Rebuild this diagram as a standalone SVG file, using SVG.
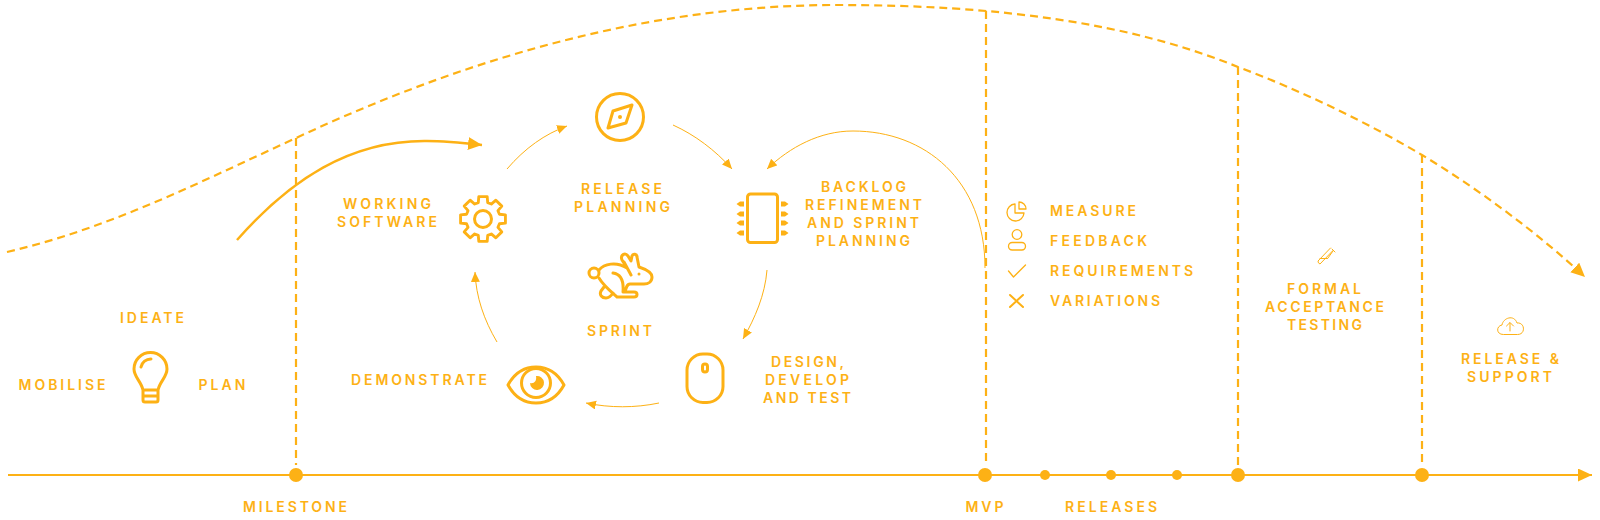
<svg xmlns="http://www.w3.org/2000/svg" width="1600" height="520" viewBox="0 0 1600 520">
<style>
text{font-family:Inter,"Liberation Sans",sans-serif;font-size:14px;font-weight:600;fill:#fdb115}
.i{fill:none;stroke:#fdb115;stroke-width:3;stroke-linecap:round;stroke-linejoin:round}
.t{stroke-width:2}
.f{fill:#fdb115;stroke:none}
.dash{fill:none;stroke:#fdb115;stroke-width:2.200;stroke-dasharray:8 5}
.thin{fill:none;stroke:#fdb115;stroke-width:1;marker-end:url(#am)}
</style>
<defs>
<marker id="am" markerUnits="userSpaceOnUse" markerWidth="12" markerHeight="10" refX="10" refY="4.500" orient="auto"><path d="M0 0L10 4.500L0 9Z" fill="#fdb115"/></marker>
<marker id="al" markerUnits="userSpaceOnUse" markerWidth="16" markerHeight="14" refX="14" refY="6.500" orient="auto"><path d="M0 0L14 6.500L0 13Z" fill="#fdb115"/></marker>
</defs>
<rect width="1600" height="520" fill="#fff"/>
<g id="connectors">
<path d="M8 475H1592" fill="none" stroke="#fdb115" stroke-width="2" marker-end="url(#al)"/>
<path class="dash" d="M7 252C110 228 200 182 296 138C480 52 660 5 837 5C1000 5 1130 23 1238 67C1300 90 1370 124 1422 155C1480 190 1540 235 1585 277" marker-end="url(#al)"/>
<path class="dash" d="M296 138V465M986 11V465M1238 67V465M1422 155V465"/>
<path d="M237 240C290 180 350 140 427 141C442 141 455 142 482 145" fill="none" stroke="#fdb115" stroke-width="2.500" marker-end="url(#al)"/>
<path class="thin" d="M507 169C525 148 545 134 567 126"/>
<path class="thin" d="M673 125C695 135 715 150 732 169"/>
<path class="thin" d="M985 268C985 180 925 131 853 131C820 131 790 147 767 169"/>
<path class="thin" d="M767 270C765 295 755 318 743 339"/>
<path class="thin" d="M659 403C635 408 610 408 586 403"/>
<path class="thin" d="M497 342C484 320 476 297 475 272"/>
</g>
<g id="timeline-dots" fill="#fdb115">
<circle cx="296" cy="475" r="7"/><circle cx="985" cy="475" r="7"/><circle cx="1045" cy="475" r="5"/><circle cx="1111" cy="475" r="5"/><circle cx="1177" cy="475" r="5"/><circle cx="1238" cy="475" r="7"/><circle cx="1422" cy="475" r="7"/>
</g>
<g id="ideate">
<path class="i" d="M143 400V390H158V400Q158 402 156 402H145Q143 402 143 400ZM143 390C141 381 134 377 134 369A16.500 16.500 0 0 1 167 369C167 377 160 381 158 390M144 396H157M141 367A10 10 0 0 1 151 359"/>
<text x="120" y="323" textLength="64">IDEATE</text>
<text x="18.500" y="390" textLength="87">MOBILISE</text>
<text x="198.500" y="390" textLength="47">PLAN</text>
</g>
<g id="milestone"><text x="243" y="512" textLength="104">MILESTONE</text></g>
<g id="working-software">
<path class="i" transform="translate(483 219) scale(.95)" d="M17.300 -4.960L23.600 -4.410V4.410L17.300 4.960L15.740 8.730L19.800 13.560L13.560 19.800L8.730 15.740L4.960 17.300L4.410 23.600H-4.410L-4.960 17.300L-8.730 15.740L-13.560 19.800L-19.800 13.560L-15.740 8.730L-17.300 4.960L-23.600 4.410V-4.410L-17.300 -4.960L-15.740 -8.730L-19.800 -13.560L-13.560 -19.800L-8.730 -15.740L-4.960 -17.300L-4.410 -23.600H4.410L4.960 -17.300L8.730 -15.740L13.560 -19.800L19.800 -13.560L15.740 -8.730Z"/>
<circle class="i" cx="483" cy="219" r="8.500"/>
<text x="343" y="209" textLength="88">WORKING</text>
<text x="337" y="227" textLength="100">SOFTWARE</text>
</g>
<g id="release-planning">
<circle class="i" cx="620" cy="117" r="23.500"/>
<path class="i" d="M608 128L613 111L632 105L626 123Z"/>
<circle class="f" cx="620" cy="117" r="2"/>
<text x="581" y="194" textLength="81">RELEASE</text>
<text x="574" y="212" textLength="96">PLANNING</text>
</g>
<g id="backlog">
<rect class="i" x="747.500" y="194" width="30" height="48.500" rx="3"/>
<path class="f" d="M736.500 204L740 201.500H744V206.500H740ZM736.500 214L740 211.500H744V216.500H740ZM736.500 223L740 220.500H744V225.500H740ZM736.500 233L740 230.500H744V235.500H740ZM788.500 204L785 201.500H781V206.500H785ZM788.500 214L785 211.500H781V216.500H785ZM788.500 223L785 220.500H781V225.500H785ZM788.500 233L785 230.500H781V235.500H785Z"/>
<text x="821" y="192" textLength="85">BACKLOG</text>
<text x="805" y="210" textLength="117">REFINEMENT</text>
<text x="807" y="228" textLength="112">AND SPRINT</text>
<text x="816" y="246" textLength="94">PLANNING</text>
</g>
<g id="sprint">
<circle class="i" cx="594" cy="273" r="5"/>
<path class="i" d="M599 270C604 264 616 261 627 268L622 260C620 255 625 252 628 256L631 261L632 256C633 253 637 254 637 257L639 267C645 269 652 272 652 277C652 282 648 284 644 284H630C627 284 626 288 625 292H634C638 292 638 297 634 297H617C609 290 603 285 599 278M604 287L601 291C599 295 602 298 606 298C609 298 611 296 613 293M613 273C620 274 624 280 623 292M624 262L631 275"/>
<circle class="f" cx="639" cy="274" r="1.500"/>
<text x="587" y="336" textLength="65">SPRINT</text>
</g>
<g id="design">
<rect class="i" x="687" y="354" width="36" height="48.500" rx="16"/>
<rect class="i" x="702.500" y="364" width="5" height="8" rx="2.500"/>
<text x="771" y="367" textLength="73">DESIGN,</text>
<text x="765" y="385" textLength="84">DEVELOP</text>
<text x="763" y="403" textLength="88">AND TEST</text>
</g>
<g id="demonstrate">
<path class="i" d="M508 385C514 374 524 367 536 367C548 367 558 374 564 385C558 396 548 403 536 403C524 403 514 396 508 385Z"/>
<circle class="i" cx="536" cy="383" r="14.500"/>
<path class="f" d="M536 376A7 7 0 1 1 530 383C534 384 537 381 536 376Z"/>
<text x="351" y="385" textLength="136">DEMONSTRATE</text>
</g>
<g id="measure">
<path class="i" style="stroke-width:1.300" d="M1015 204A8.500 8.500 0 1 0 1024 213H1015ZM1019 202A7 7 0 0 1 1026 209H1019Z"/>
<text x="1050" y="216" textLength="86">MEASURE</text>
</g>
<g id="feedback">
<circle class="i" style="stroke-width:1.300" cx="1017" cy="234.500" r="4.800"/>
<rect class="i" style="stroke-width:1.300" x="1008.500" y="242.500" width="17" height="7.500" rx="3.700"/>
<text x="1050" y="246" textLength="97">FEEDBACK</text>
</g>
<g id="requirements">
<path class="i" style="stroke-width:1.300" d="M1008.500 271L1013.500 277L1025.500 265"/>
<text x="1050" y="276" textLength="143">REQUIREMENTS</text>
</g>
<g id="variations">
<path class="i t" d="M1010 295L1023 307M1023 295L1010 307"/>
<text x="1050" y="306" textLength="110">VARIATIONS</text>
</g>
<g id="formal-acceptance">
<path class="i" style="stroke-width:1" d="M1332 249L1335 252M1333 250.500L1320 264A3 3 0 0 1 1318 261L1330.500 248M1320 258.500H1327.500M1328 258L1333 251"/>
<text x="1287" y="294" textLength="74">FORMAL</text>
<text x="1265" y="312" textLength="119">ACCEPTANCE</text>
<text x="1287" y="330" textLength="75">TESTING</text>
</g>
<g id="release-support">
<path class="i" style="stroke-width:1" d="M1503 334.500C1496 334.500 1496 326 1502 325C1503 318 1514 314 1517 323C1525 322 1526 334.500 1518 334.500ZM1510 331V323M1506.500 326L1510 322.500L1513.500 326"/>
<text x="1461" y="364" textLength="98">RELEASE &amp;</text>
<text x="1467" y="382" textLength="85">SUPPORT</text>
</g>
<g id="mvp"><text x="965.500" y="512" textLength="38">MVP</text></g>
<g id="releases"><text x="1065" y="512" textLength="92">RELEASES</text></g>
</svg>
